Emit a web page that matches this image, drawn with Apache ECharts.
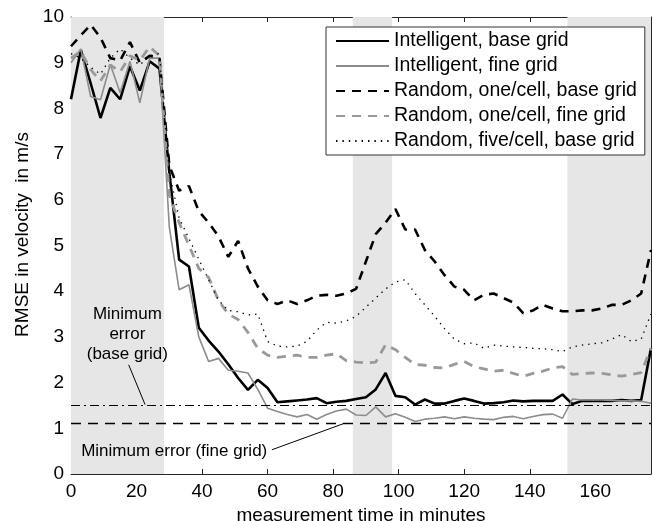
<!DOCTYPE html>
<html><head><meta charset="utf-8">
<script src="https://cdn.jsdelivr.net/npm/echarts@6/dist/echarts.min.js"></script>
<style>html,body{margin:0;padding:0;background:#fff}#c{width:653px;height:521px}</style>
</head><body><div id="c"></div>
<script>
// ---- data ----
const timeMinutes = [0,3,6,9,12,15,18,21,24,27,
  30,33,36,39,42,45,48,51,54,57,
  60,63,66,69,72,75,78,81,84,87,
  90,93,96,99,102,105,108,111,114,117,
  120,123,126,129,132,135,138,141,144,147,
  150,153,156,159,162,165,168,171,174,177];
const seriesNames = ['Intelligent, base grid','Intelligent, fine grid','Random, one/cell, base grid','Random, one/cell, fine grid','Random, five/cell, base grid'];
const intelBase = [8.2,9.28,8.55,7.79,8.45,8.2,8.92,8.39,9.03,8.87,
  6.6,4.69,4.54,3.2,2.92,2.68,2.4,2.1,1.84,2.06,
  1.88,1.57,1.59,1.61,1.63,1.66,1.55,1.58,1.6,1.64,
  1.68,1.85,2.21,1.71,1.68,1.52,1.63,1.54,1.54,1.6,
  1.65,1.6,1.54,1.55,1.57,1.61,1.59,1.6,1.6,1.6,
  1.74,1.53,1.6,1.6,1.6,1.6,1.62,1.6,1.62,2.75];
const intelFine = [9.0,9.3,8.26,8.19,8.96,8.34,9.03,8.12,9.1,9.1,
  5.4,4.03,4.14,3.0,2.46,2.53,2.27,2.25,2.21,1.85,
  1.44,1.37,1.3,1.25,1.3,1.2,1.3,1.38,1.42,1.29,
  1.28,1.47,1.25,1.32,1.24,1.15,1.2,1.22,1.25,1.21,
  1.25,1.22,1.2,1.19,1.24,1.26,1.21,1.26,1.3,1.31,
  1.22,1.64,1.62,1.62,1.62,1.61,1.6,1.6,1.59,1.55];
const randBase = [9.36,9.6,9.83,9.55,9.1,9.05,9.45,9.0,9.15,9.1,
  6.75,6.2,6.3,5.75,5.5,5.2,4.75,5.1,4.5,4.1,
  3.8,3.72,3.8,3.72,3.8,3.9,3.92,3.9,3.95,4.05,
  4.65,5.25,5.5,5.8,5.35,5.35,4.9,4.65,4.35,4.1,
  4.03,3.8,3.92,3.95,3.85,3.75,3.52,3.58,3.7,3.62,
  3.56,3.56,3.58,3.58,3.62,3.7,3.7,3.8,3.95,4.9];
const randFine = [9.1,9.25,8.85,8.6,8.95,8.8,9.15,9.05,9.35,9.15,
  6.1,5.5,5.0,4.5,4.3,3.8,3.5,3.38,3.1,2.75,
  2.6,2.55,2.58,2.6,2.55,2.55,2.6,2.63,2.48,2.45,
  2.43,2.45,2.83,2.72,2.55,2.4,2.38,2.33,2.32,2.4,
  2.46,2.35,2.3,2.25,2.27,2.2,2.14,2.2,2.25,2.32,
  2.35,2.18,2.2,2.21,2.2,2.17,2.14,2.18,2.22,2.75];
const rand5Base = [9.2,9.1,8.9,8.75,9.1,9.3,9.1,8.95,9.15,9.2,
  6.6,5.6,5.15,4.7,4.25,3.8,3.58,3.55,3.48,3.5,
  2.9,2.8,2.78,2.8,2.9,3.15,3.32,3.3,3.35,3.45,
  3.65,3.85,4.05,4.2,4.25,3.95,3.7,3.45,3.18,2.95,
  2.85,2.87,2.75,2.82,2.8,2.78,2.77,2.75,2.74,2.72,
  2.68,2.78,2.82,2.85,2.87,2.95,3.05,2.9,2.95,3.5];
const shadedStart = [0, 86, 151.5];
const shadedEnd = [28.4, 98, 177];
const minErrorBase = 1.5;
const minErrorFine = 1.1;
const annotBaseText = 'Minimum\nerror\n(base grid)';
const annotBasePos = [17.2, 3.05];
const annotBaseArrow = [[17.6, 2.39], [22.6, 1.52]];
const annotFineText = 'Minimum error (fine grid)';
const annotFinePos = [31.5, 0.49];
const annotFineArrow = [[61.3, 0.53], [83.1, 1.1]];
const xMin = 0, xMax = 177, xStep = 20;
const yMin = 0, yMax = 10, yStep = 1;

// ---- chart ----
const FONT = '"Liberation Sans", Arial, Helvetica, sans-serif';
const AX = '#262626';
const pairs = ys => timeMinutes.map((t, i) => [t, ys[i]]);
const chart = echarts.init(document.getElementById('c'), null, {renderer: 'canvas'});

const styles = [
  {color: '#000', width: 2.6, type: 'solid'},
  {color: '#8c8c8c', width: 1.6, type: 'solid'},
  {color: '#000', width: 2.6, type: [9, 7]},
  {color: '#999', width: 2.8, type: [9, 7]},
  {color: '#000', width: 1.3, type: [1.4, 5]}
];
const dataSets = [intelBase, intelFine, randBase, randFine, rand5Base];

const mainSeries = seriesNames.map((n, k) => ({
  name: n, type: 'line', symbol: 'none', showSymbol: false, z: 3 + k,
  color: styles[k].color,
  lineStyle: {color: styles[k].color, width: styles[k].width, type: styles[k].type},
  data: pairs(dataSets[k]), silent: true
}));

const xTickAxis = (pos, labels) => ({
  type: 'value', position: pos, min: xMin, max: xMax, interval: xStep,
  axisLine: {show: true, onZero: false, lineStyle: {color: AX, width: 1}},
  axisTick: {show: true, inside: true, length: 5, lineStyle: {color: AX}},
  axisLabel: {show: labels, fontSize: 19, color: '#000', fontFamily: FONT, margin: 8,
    formatter: v => (v % xStep === 0 ? String(v) : '')},
  splitLine: {show: false}
});
const yTickAxis = (pos, labels) => ({
  type: 'value', position: pos, min: yMin, max: yMax, interval: yStep,
  axisLine: {show: true, onZero: false, lineStyle: {color: AX, width: 1}},
  axisTick: {show: true, inside: true, length: 5, lineStyle: {color: AX}},
  axisLabel: {show: labels, fontSize: 19, color: '#000', fontFamily: FONT, margin: 7},
  splitLine: {show: false}
});

const xA = xTickAxis('bottom', true);
xA.name = 'measurement time in minutes';
xA.nameLocation = 'middle';
xA.nameGap = 27;
xA.nameTextStyle = {fontSize: 19, color: '#000', fontFamily: FONT, verticalAlign: 'top'};
const yA = yTickAxis('left', true);
yA.name = 'RMSE in velocity  in m/s';
yA.nameLocation = 'middle';
yA.nameGap = 37;
yA.nameTextStyle = {fontSize: 19, color: '#000', fontFamily: FONT, padding: [0, 0, 0, 22]};

const option = {
  animation: false,
  textStyle: {fontFamily: FONT},
  grid: {left: 71, right: 2, top: 17, bottom: 47, containLabel: false, outerBoundsMode: 'none'},
  xAxis: [xA, xTickAxis('top', false)],
  yAxis: [yA, yTickAxis('right', false)],
  legend: {
    orient: 'vertical', left: 326, top: 27,
    itemWidth: 53, itemHeight: 14, itemGap: 5,
    padding: [4, 8, 4, 9],
    backgroundColor: '#fff', borderColor: '#333', borderWidth: 1, borderRadius: 0,
    itemStyle: {opacity: 0},
    textStyle: {fontSize: 19.5, color: '#000', fontFamily: FONT},
    data: seriesNames, selectedMode: false
  },
  series: [
    {
      name: 'shade', type: 'line', data: [], z: 1, silent: true,
      markArea: {silent: true, itemStyle: {color: '#e6e6e6'},
        data: shadedStart.map((s, i) => [{xAxis: s}, {xAxis: shadedEnd[i]}])}
    },
    {
      name: 'minerr', type: 'line', data: [], z: 2, silent: true,
      markLine: {silent: true, symbol: 'none', label: {show: false}, animation: false,
        data: [
          {yAxis: minErrorBase, lineStyle: {color: '#000', width: 1.2, type: [9, 4, 2, 4]}},
          {yAxis: minErrorFine, lineStyle: {color: '#000', width: 1.3, type: [10, 7]}}
        ]}
    },
    ...mainSeries,
    {
      name: 'annot', type: 'line', data: [], z: 10, silent: true,
      markLine: {silent: true, symbol: ['none', 'arrow'], symbolSize: [0, 12], label: {show: false},
        lineStyle: {color: '#000', width: 1, type: 'solid'},
        data: [
          [{coord: annotBaseArrow[0]}, {coord: annotBaseArrow[1]}],
          [{coord: annotFineArrow[0]}, {coord: annotFineArrow[1]}]
        ]},
      markPoint: {silent: true, symbol: 'circle', symbolSize: 0,
        label: {show: true, position: 'inside', formatter: '{b}', fontSize: 17, lineHeight: 20,
          color: '#000', fontFamily: FONT, align: 'center'},
        data: [
          {name: annotBaseText, coord: annotBasePos},
          {name: annotFineText, coord: annotFinePos}
        ]}
    }
  ]
};
chart.setOption(option);
</script>
</body></html>
